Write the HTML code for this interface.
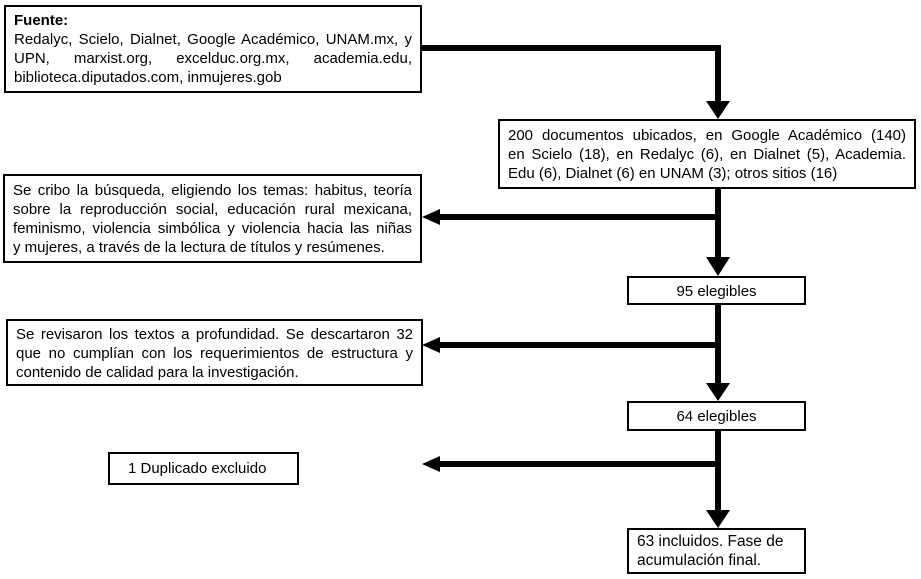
<!DOCTYPE html>
<html><head><meta charset="utf-8"><style>
body{margin:0;width:921px;height:579px;background:#fff;position:relative;overflow:hidden;font-family:"Liberation Sans",sans-serif;color:#000}
.b{position:absolute;border:2px solid #000;box-sizing:border-box;background:#fff;font-size:15px;line-height:19px;padding:3px 8px}
.l{text-align:justify;text-align-last:justify;white-space:nowrap}
.e{white-space:nowrap}
.c{text-align:center}
svg{position:absolute;left:0;top:0}
</style></head><body>
<svg width="921" height="579">
<g stroke="#000" stroke-width="6" fill="none">
<polyline points="421,48 718,48 718,102"/>
<line x1="718" y1="188" x2="718" y2="258"/>
<line x1="718" y1="217" x2="436" y2="217"/>
<line x1="718" y1="304" x2="718" y2="383"/>
<line x1="718" y1="345" x2="436" y2="345"/>
<line x1="718" y1="430" x2="718" y2="510"/>
<line x1="718" y1="464" x2="436" y2="464"/>
</g>
<g fill="#000">
<polygon points="706,101 730,101 718,119"/>
<polygon points="706,257 730,257 718,276"/>
<polygon points="706,383 730,383 718,401"/>
<polygon points="706,510 730,510 718,528"/>
<polygon points="440,209 440,225 422,217"/>
<polygon points="440,337 440,353 422,345"/>
<polygon points="440,456 440,472 422,464"/>
</g>
</svg>
<div class="b" style="left:4px;top:5px;width:418px;height:88px;padding-top:4px"><div class="e"><b>Fuente:</b></div><div class="l">Redalyc, Scielo, Dialnet, Google Académico, UNAM.mx, y</div><div class="l">UPN, marxist.org, excelduc.org.mx, academia.edu,</div><div class="e">biblioteca.diputados.com, inmujeres.gob</div></div>
<div class="b" style="left:498px;top:119px;width:418px;height:70px;padding-top:5px"><div class="l">200 documentos ubicados, en Google Académico (140)</div><div class="l">en Scielo (18), en Redalyc (6), en Dialnet (5), Academia.</div><div class="e">Edu (6), Dialnet (6) en UNAM (3); otros sitios (16)</div></div>
<div class="b" style="left:3px;top:174px;width:419px;height:89px;padding-top:5px"><div class="l">Se cribo la búsqueda, eligiendo los temas: habitus, teoría</div><div class="l">sobre la reproducción social, educación rural mexicana,</div><div class="l">feminismo, violencia simbólica y violencia hacia las niñas</div><div class="e">y mujeres, a través de la lectura de títulos y resúmenes.</div></div>
<div class="b c" style="left:627px;top:276px;width:179px;height:29px;padding-top:4px">95 elegibles</div>
<div class="b" style="left:6px;top:319px;width:417px;height:67px;padding-top:4px"><div class="l">Se revisaron los textos a profundidad. Se descartaron 32</div><div class="l">que no cumplían con los requerimientos de estructura y</div><div class="e">contenido de calidad para la investigación.</div></div>
<div class="b c" style="left:627px;top:401px;width:179px;height:30px;padding-top:4px">64 elegibles</div>
<div class="b" style="left:108px;top:452px;width:191px;height:33px;padding-top:5px;padding-left:18px">1 Duplicado excluido</div>
<div class="b" style="left:627px;top:528px;width:179px;height:46px;padding-top:2px;font-size:15.5px">63 incluidos. Fase de<br>acumulación final.</div>
</body></html>
